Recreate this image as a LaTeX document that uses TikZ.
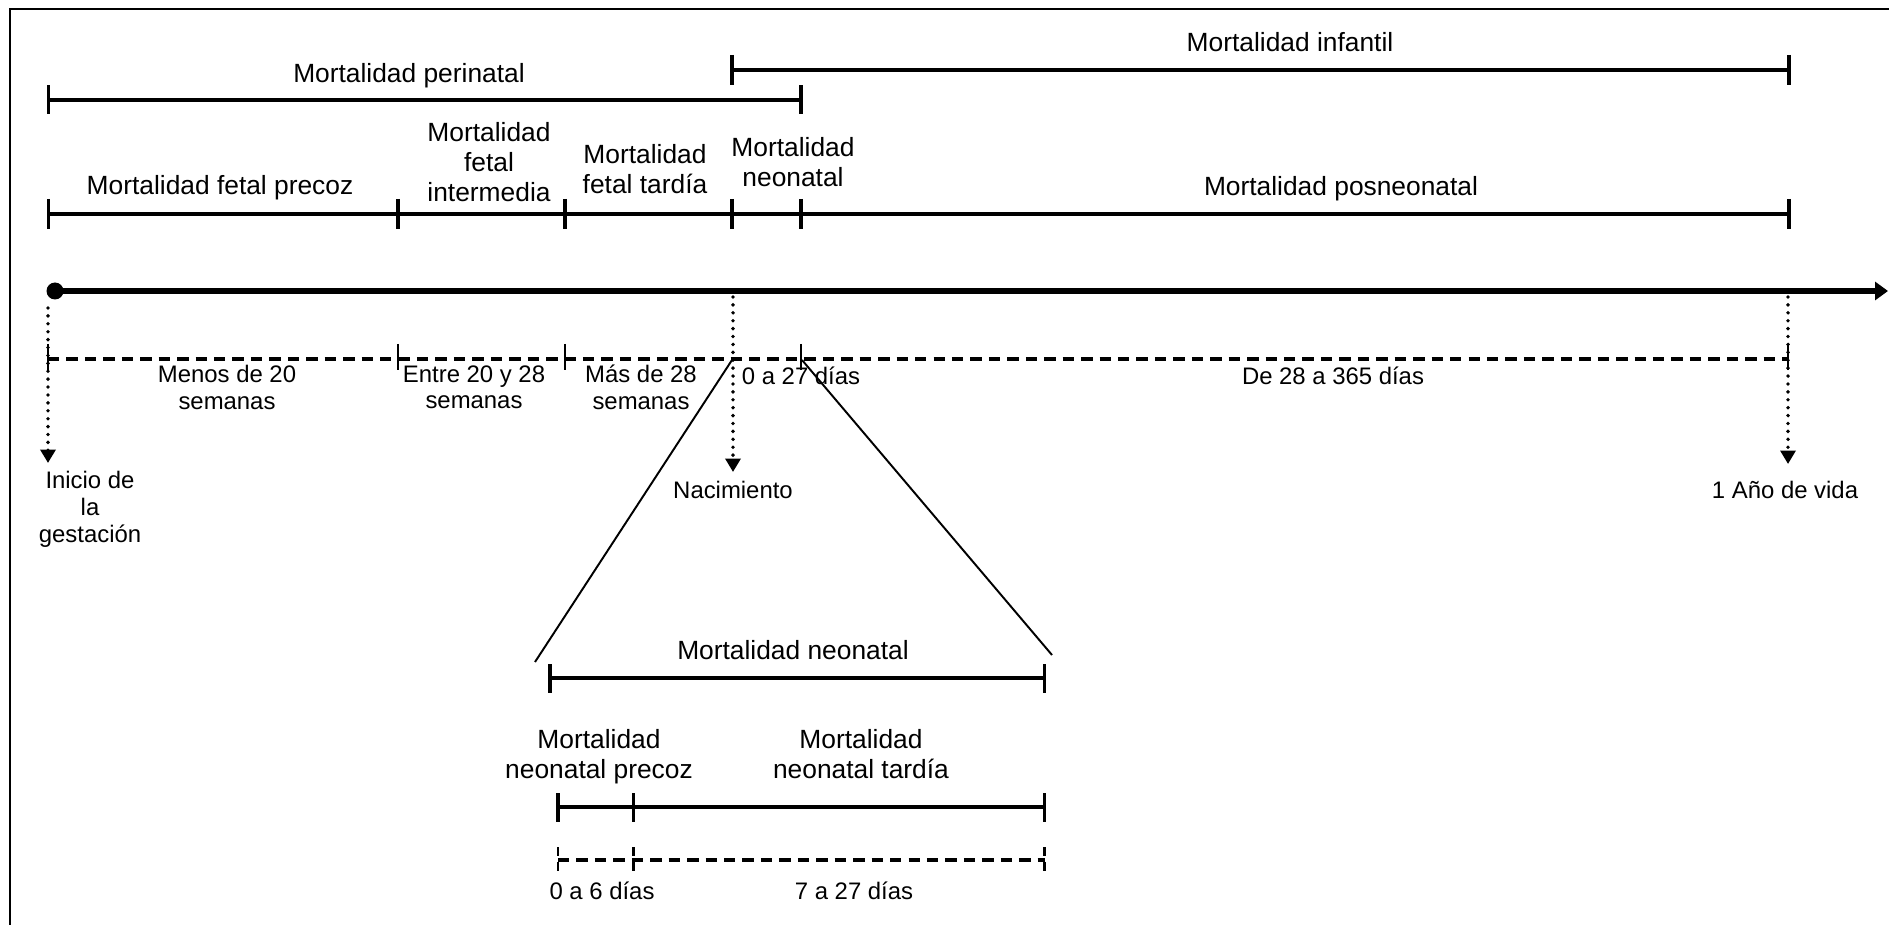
\documentclass[tikz,border=0pt]{standalone}
\usepackage{fontspec}
\setmainfont{Liberation Sans}
\usetikzlibrary{arrows.meta}
\begin{document}
\begin{tikzpicture}[x=0.02cm,y=-0.02cm,
  big/.style={font=\fontsize{15}{17}\selectfont, align=center, anchor=north, inner sep=0pt, execute at begin node=\strut},
  small/.style={font=\fontsize{13.6}{15.3}\selectfont, align=center, anchor=north, inner sep=0pt, execute at begin node=\strut},
  bar/.style={line width=2.7pt},
  tickmark/.style={line width=2pt},
  frameline/.style={line width=1.4pt},
  dashline/.style={line width=1.8pt, dash pattern=on 6.5pt off 4pt},
  dashtick/.style={line width=1.2pt},
  dotarrow/.style={line width=2.2pt, line cap=round, dash pattern=on 0pt off 4.5pt, -{Triangle[width=0.3cm,length=0.27cm]}},
  zoomline/.style={line width=1.1pt},
  timeline/.style={line width=3.4pt, -{Triangle[width=0.36cm,length=0.26cm]}}
]
\useasboundingbox (0,0) rectangle (1889,925);

% frame
\draw[frameline] (10,925) -- (10,9) -- (1889,9);

% Mortalidad infantil
\node[big] (infantil) at (1290,30) {Mortalidad infantil};
\coordinate (infA) at (732,70); \coordinate (infB) at (1789,70);
\draw[bar] (infA) -- (infB);
\foreach \x in {732,1789} \draw[tickmark] (\x,55) -- (\x,85);

% Mortalidad perinatal
\node[big] (perinatal) at (409,61) {Mortalidad perinatal};
\coordinate (perA) at (48.5,100); \coordinate (perB) at (801,100);
\draw[bar] (perA) -- (perB);
\foreach \x in {48.5,801} \draw[tickmark] (\x,85.5) -- (\x,114.5);

% main segment labels
\node[big] (fprecoz) at (220,173) {Mortalidad fetal precoz};
\node[big] (finter) at (489,122) {Mortalidad\\fetal\\intermedia};
\node[big] (ftardia) at (645,144) {Mortalidad\\fetal tardía};
\node[big] (neo) at (793,137) {Mortalidad\\neonatal};
\node[big] (posneo) at (1341,174) {Mortalidad posneonatal};
\coordinate (segA) at (48.5,214); \coordinate (segB) at (1789,214);
\draw[bar] (segA) -- (segB);
\foreach \x in {48.5,398,565,732,801,1789} \draw[tickmark] (\x,199) -- (\x,229);

% timeline
\node[circle, fill, inner sep=0pt, minimum size=0.34cm] (start) at (55,291) {};
\coordinate (tend) at (1888,291);
\draw[timeline] (start.center) -- (tend);

% dashed scale
\coordinate (dA) at (48,359); \coordinate (dB) at (1788,359);
\draw[dashline] (dA) -- (dB);
\foreach \x in {48,398,565,801,1788} \draw[dashtick] (\x,344) -- (\x,370);

\node[small] (menos) at (227,365) {Menos de 20\\semanas};
\node[small] (entre) at (474,365) {Entre 20 y 28\\semanas};
\node[small] (mas) at (641,365) {Más de 28\\semanas};
\node[small] (d027) at (801,365) {0 a 27 días};
\node[small] (d28365) at (1333,365) {De 28 a 365 días};

% dotted arrows and event labels
\node[small] (inicio) at (90,471) {Inicio de\\la\\gestación};
\node[small] (nac) at (733,479) {Nacimiento};
\node[small] (anio) at (1785,479) {1 Año de vida};
\coordinate (a1s) at (48,308); \coordinate (a1e) at (48,463);
\coordinate (a2s) at (733,297); \coordinate (a2e) at (733,472);
\coordinate (a3s) at (1788,297); \coordinate (a3e) at (1788,464);
\draw[dotarrow] (a1s) -- (a1e);
\draw[dotarrow] (a2s) -- (a2e);
\draw[dotarrow] (a3s) -- (a3e);

% zoom lines
\coordinate (zA) at (732,360); \coordinate (zB) at (802,360);
\coordinate (zC) at (535,662); \coordinate (zD) at (1052,655);
\draw[zoomline] (zA) -- (zC);
\draw[zoomline] (zB) -- (zD);

% neonatal detail
\node[big] (neo2) at (793,638) {Mortalidad neonatal};
\coordinate (nA) at (550,678); \coordinate (nB) at (1044.5,678);
\draw[bar] (nA) -- (nB);
\foreach \x in {550,1044.5} \draw[tickmark] (\x,664) -- (\x,693);

\node[big] (nprecoz) at (599,729) {Mortalidad\\neonatal precoz};
\node[big] (ntardia) at (861,729) {Mortalidad\\neonatal tardía};
\coordinate (mA) at (558,807); \coordinate (mB) at (1044.5,807);
\draw[bar] (mA) -- (mB);
\foreach \x in {558,633.5,1044.5} \draw[tickmark] (\x,793) -- (\x,822);

\coordinate (eA) at (558,860); \coordinate (eB) at (1044.5,860);
\draw[dashline] (eA) -- (eB);
\foreach \x in {558,633.5,1044.5} \draw[dashtick, dash pattern=on 5pt off 3.4pt] (\x,847) -- (\x,873);

\node[small] (d06) at (602,880) {0 a 6 días};
\node[small] (d727) at (854,880) {7 a 27 días};
\end{tikzpicture}
\end{document}
